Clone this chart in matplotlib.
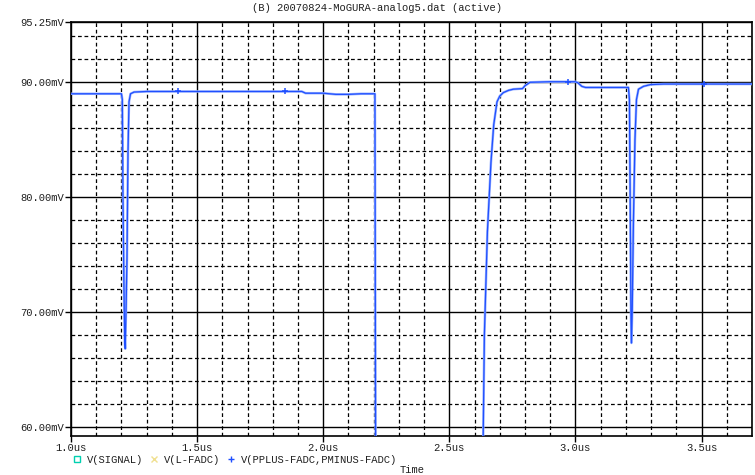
import matplotlib
matplotlib.use('Agg')
import matplotlib.pyplot as plt
import numpy as np
from matplotlib.lines import Line2D
from matplotlib.ticker import MultipleLocator, FixedLocator

# trace (time in us, voltage in mV)
time_us = [1.00, 1.200, 1.2035, 1.206, 1.210, 1.213, 1.215, 1.218, 1.222,
           1.226, 1.230, 1.236, 1.25, 1.30, 1.425, 1.85, 1.90, 1.915, 1.93,
           2.00, 2.05, 2.10, 2.15, 2.205, 2.208, 2.632, 2.639, 2.651, 2.665,
           2.676, 2.689, 2.700, 2.714, 2.735, 2.754, 2.790, 2.800, 2.820,
           2.90, 2.97, 3.00, 3.01, 3.025, 3.04, 3.21, 3.214, 3.217, 3.220,
           3.222, 3.225, 3.230, 3.236, 3.242, 3.25, 3.27, 3.298, 3.35, 3.51,
           3.70]
volt_mv = [89.0, 89.0, 88.5, 80.0, 72.0, 67.5, 66.8, 70.0, 74.7,
           83.9, 88.3, 89.0, 89.15, 89.2, 89.2, 89.2, 89.2, 89.2, 89.05,
           89.05, 88.95, 88.95, 89.0, 89.0, 55.0, 55.0, 68.0, 77.0, 83.0,
           86.3, 88.3, 88.8, 89.1, 89.3, 89.4, 89.45, 89.7, 90.0,
           90.05, 90.05, 90.05, 89.95, 89.65, 89.55, 89.55, 88.5, 80.0, 70.0,
           67.3, 70.0, 78.0, 85.0, 88.5, 89.4, 89.65, 89.8, 89.85, 89.85,
           89.85]
marker_times = [1.425, 1.85, 2.97, 3.51]

x_ticks = [1.0, 1.5, 2.0, 2.5, 3.0, 3.5]
x_labels = ['1.0us', '1.5us', '2.0us', '2.5us', '3.0us', '3.5us']
y_ticks = [60, 70, 80, 90, 95.25]
y_labels = ['60.00mV', '70.00mV', '80.00mV', '90.00mV', '95.25mV']
legend_names = ['V(SIGNAL)', 'V(L-FADC)', 'V(PPLUS-FADC,PMINUS-FADC)']

mono = 'Liberation Mono'
txt = '#202020'
fs = 7.6

fig = plt.figure(figsize=(7.55, 4.75), dpi=100)
ax = fig.add_axes([71 / 755, 39 / 475, 681 / 755, 414 / 475])

t = np.array(time_us)
v = np.array(volt_mv)
ax.plot(t, v, color='#9ab2ff', lw=1.8, solid_joinstyle='round', zorder=3)
idx = list(np.searchsorted(t, marker_times))
ax.plot(t, v, color='#1f4fff', lw=0.9, marker='+', ms=5, mew=1.1,
        markevery=idx, zorder=4)

ax.set_xlim(1.0, 3.7)
ax.set_ylim(59.2, 95.25)

ax.xaxis.set_major_locator(FixedLocator(x_ticks))
ax.set_xticklabels(x_labels)
ax.yaxis.set_major_locator(FixedLocator(y_ticks))
ax.set_yticklabels(y_labels)
ax.xaxis.set_minor_locator(MultipleLocator(0.1))
ax.yaxis.set_minor_locator(MultipleLocator(2))

ax.grid(which='major', color='black', lw=1.0)
ax.grid(which='minor', color='black', lw=0.9, ls=(0, (3, 2.2)))
ax.tick_params(which='minor', length=0)
ax.tick_params(which='major', length=4, width=1, color='black',
               labelsize=fs, labelcolor=txt, pad=1)
for lab in ax.get_xticklabels() + ax.get_yticklabels():
    lab.set_family(mono)
for s in ax.spines.values():
    s.set_color('black')
    s.set_linewidth(1.2)

fig.text(0.5, 1 - 8 / 475, '(B) 20070824-MoGURA-analog5.dat (active)',
         ha='center', va='center', family=mono, fontsize=fs, color=txt)
fig.text(412 / 755, 1 - 470 / 475, 'Time', ha='center', va='center',
         family=mono, fontsize=fs, color=txt)

handles = [
    Line2D([], [], ls='none', marker='s', mfc='none', mec='#00d0b0', ms=4),
    Line2D([], [], ls='none', marker='x', color='#f0e090', ms=4),
    Line2D([], [], ls='none', marker='+', color='#1f4fff', ms=5),
]
fig.legend(handles, legend_names, loc='center left', ncol=3, frameon=False,
           bbox_to_anchor=(67 / 755, 1 - 460 / 475), handlelength=0.8,
           handletextpad=0.55, columnspacing=0.65, borderpad=0,
           prop={'family': mono, 'size': fs}, labelcolor=txt)

fig.savefig('out.png', dpi=100)
